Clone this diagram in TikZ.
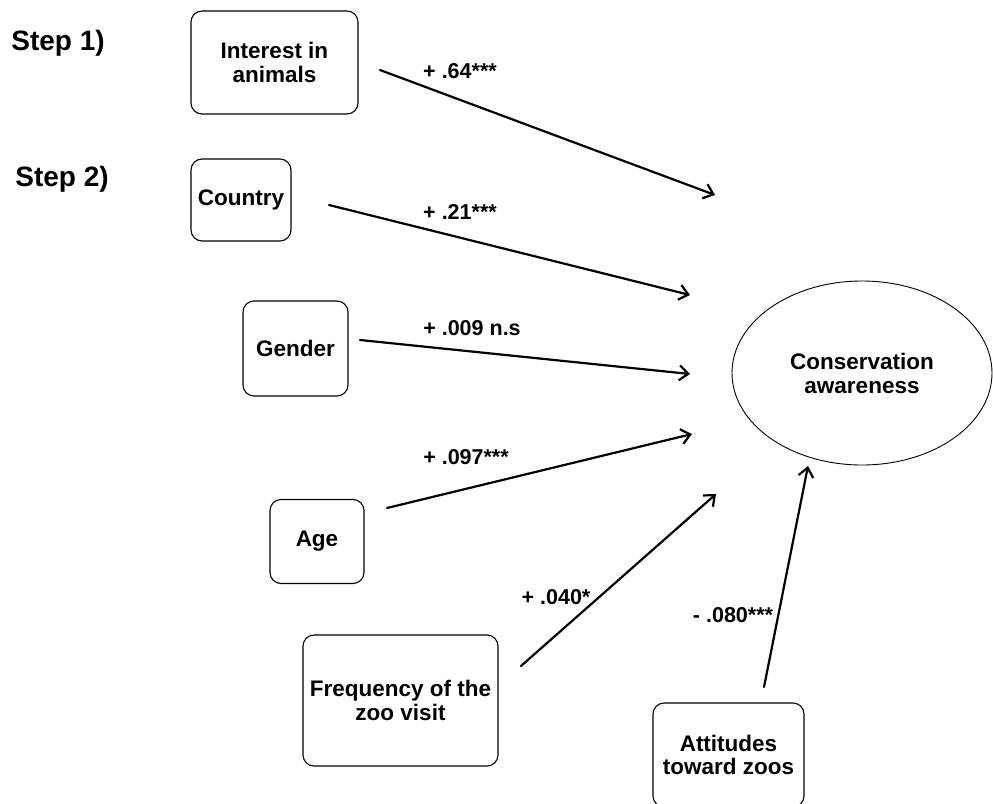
\documentclass[tikz,border=0pt]{standalone}
\usepackage{fontspec}
\setmainfont{Liberation Sans}
\usetikzlibrary{arrows.meta}
\usetikzlibrary{shapes.geometric}

\tikzset{
  varbox/.style={draw, line width=1.1pt, rounded corners=11pt, align=center,
                 inner sep=0pt, font=\fontsize{22.5}{23.5}\selectfont\bfseries},
  pathlbl/.style={font=\fontsize{21.5}{24}\selectfont\bfseries, inner sep=0pt},
  steplbl/.style={font=\fontsize{28}{30}\selectfont\bfseries, inner sep=0pt},
  effect/.style={line width=2.2pt, -{Straight Barb[length=9pt, width=15pt, line width=2.2pt]}}
}

\begin{document}
\begin{tikzpicture}[x=1pt, y=-1pt, line cap=round, line join=round]
  % page, in pixels of the original
  \useasboundingbox (0,0) rectangle (993,803);
  % steps
  \node[steplbl] (step1) at (58,43) {Step 1)};
  \node[steplbl] (step2) at (62,179) {Step 2)};
  % predictors
  \node[varbox, minimum width=167pt, minimum height=103pt] (interest) at (274.5,62.5) {Interest in\\animals};
  \node[varbox, minimum width=100pt, minimum height=82pt] (country) at (241,200) {Country};
  \node[varbox, minimum width=105pt, minimum height=95pt] (gender) at (295.5,348.5) {Gender};
  \node[varbox, minimum width=94pt, minimum height=84pt] (age) at (317,541.5) {Age};
  \node[varbox, minimum width=195pt, minimum height=131pt] (freq) at (400.5,700.5) {Frequency of the\\zoo visit};
  \node[varbox, minimum width=151pt, minimum height=104pt] (attit) at (728.5,755) {Attitudes\\toward zoos};
  % outcome
  \node[draw, ellipse, line width=0.9pt, minimum width=260pt, minimum height=184pt,
        align=center, font=\fontsize{22.5}{24}\selectfont\bfseries] (aware) at (862,373)
        {Conservation\\awareness};
  % arrow ends
  \coordinate (interest-o) at (380,70);  \coordinate (interest-i) at (715,195);
  \coordinate (country-o) at (329,205);  \coordinate (country-i) at (690,295);
  \coordinate (gender-o) at (360,340);   \coordinate (gender-i) at (690,374);
  \coordinate (age-o) at (387,508);      \coordinate (age-i) at (692,434);
  \coordinate (freq-o) at (521,666);     \coordinate (freq-i) at (716,494);
  \coordinate (attit-o) at (764,687);    \coordinate (attit-i) at (808,466);
  % effects
  \foreach \v in {interest, country, gender, age, freq, attit}
    \draw[effect] (\v-o) -- (\v-i);
  % coefficients
  \node[pathlbl] (b1) at (460,71) {+ .64***};
  \node[pathlbl] (b2) at (460,212) {+ .21***};
  \node[pathlbl] (b3) at (472,328) {+ .009 n.s};
  \node[pathlbl] (b4) at (466,457) {+ .097***};
  \node[pathlbl] (b5) at (556,597) {+ .040*};
  \node[pathlbl] (b6) at (733,615) {- .080***};
\end{tikzpicture}
\end{document}
